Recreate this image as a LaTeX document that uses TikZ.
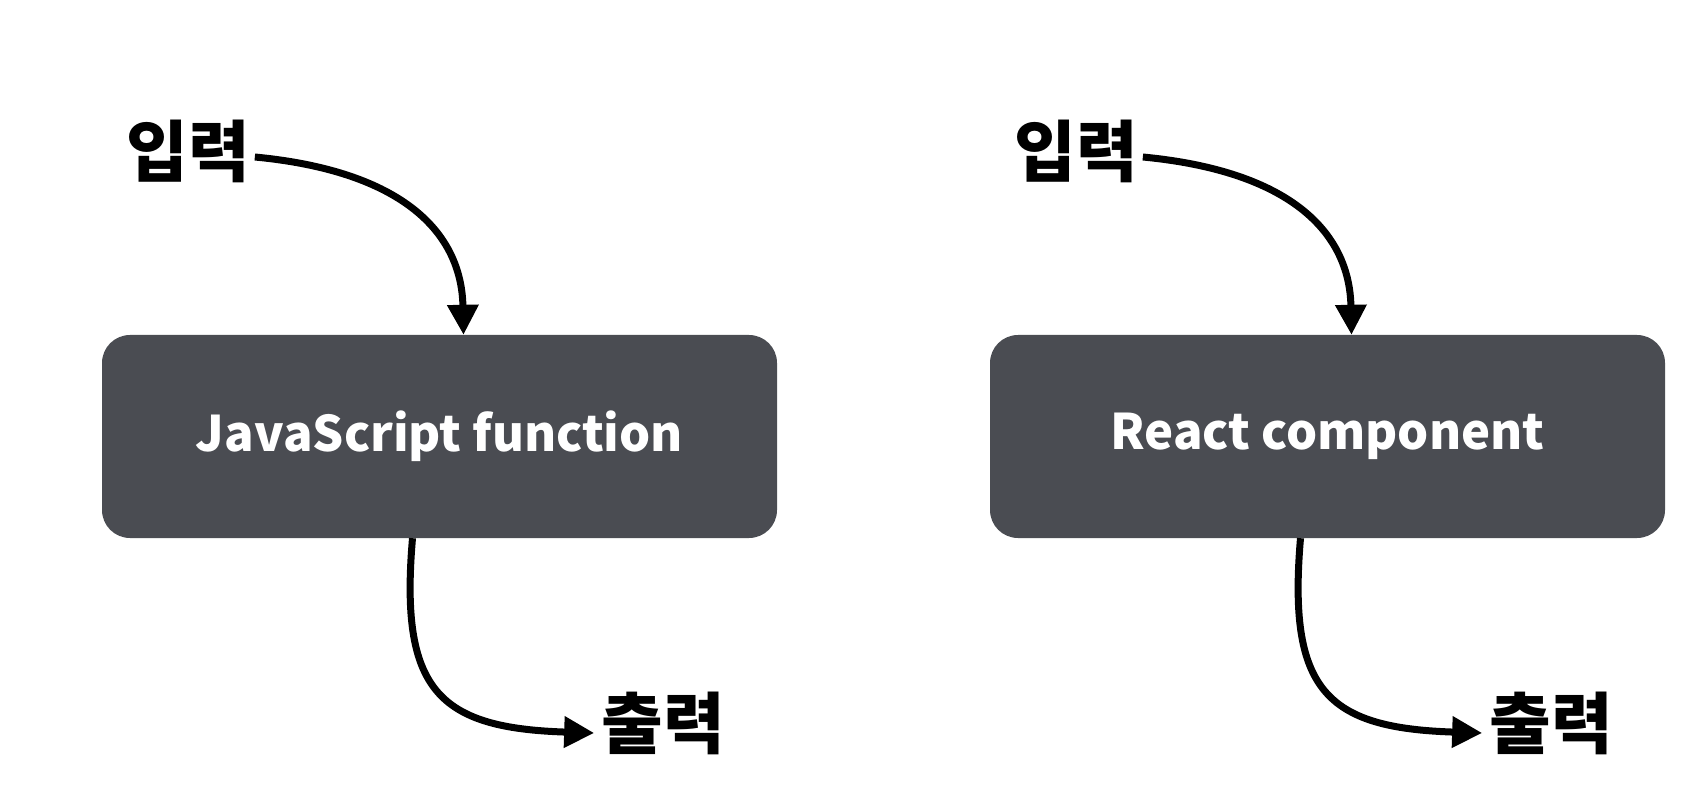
\documentclass[tikz,border=0pt]{standalone}
\usepackage{fontspec}
\setmainfont{Noto Sans CJK KR}
\usepackage{tikz}
\usetikzlibrary{arrows.meta,positioning}
\definecolor{boxGray}{HTML}{4A4C52}

\begin{document}
\begin{tikzpicture}[
    x=1pt, y=-1pt,
    fnbox/.style={fill=boxGray, rounded corners=28pt, minimum width=675pt, minimum height=203pt, text=white, font=\fontsize{49}{59}\selectfont\bfseries},
    io/.style={inner sep=0pt, font=\fontsize{67}{80}\selectfont\bfseries},
    flow/.style={-{Triangle[length=30pt,width=30pt]}, line width=7pt}
]
\useasboundingbox (0,0) rectangle (1703,810);

% left: plain function
\node[fnbox] (jsfn) at (439.5,436.5) {JavaScript function};
\node[io] (jsin) at (188,151) {입력};
\node[io] (jsout) at (663,723) {출력};

\draw[flow] ([shift={(5,6)}]jsin.east) .. controls +(147,14) and +(-2,-103) .. ([xshift=24pt]jsfn.north);
\draw[flow] ([xshift=-27pt]jsfn.south) .. controls +(-13,152) and +(-156,-5) .. ([shift={(-7,10)}]jsout.west);

% right: react component
\node[fnbox] (rcomp) at (1327.5,436.5) {React component};
\node[io] (rcin) at (1076,151) {입력};
\node[io] (rcout) at (1551,723) {출력};

\draw[flow] ([shift={(5,6)}]rcin.east) .. controls +(147,14) and +(-2,-103) .. ([xshift=24pt]rcomp.north);
\draw[flow] ([xshift=-27pt]rcomp.south) .. controls +(-13,152) and +(-156,-5) .. ([shift={(-7,10)}]rcout.west);

\end{tikzpicture}
\end{document}
